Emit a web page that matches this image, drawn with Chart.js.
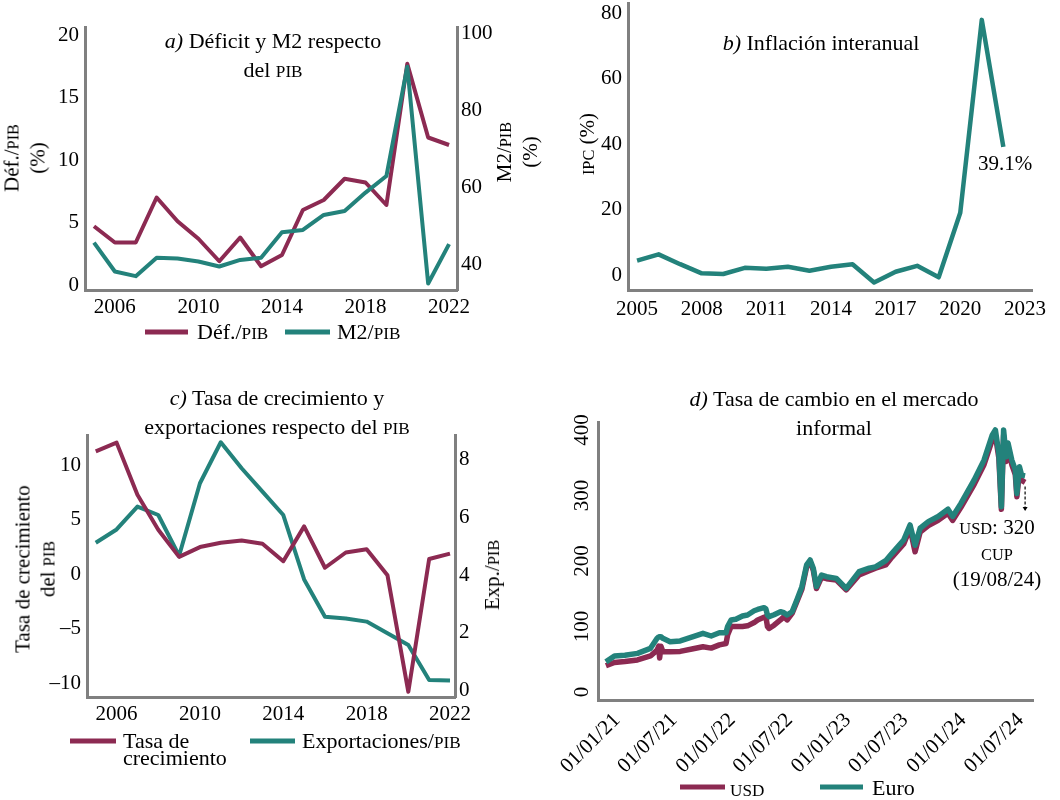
<!DOCTYPE html>
<html>
<head>
<meta charset="utf-8">
<script src="https://cdn.jsdelivr.net/npm/chart.js@4"></script>
<style>
  body { margin: 0; background: #fff; }
  #page { position: relative; width: 1060px; height: 800px; overflow: hidden; font-family: 'Liberation Serif', serif; color: #000; }
  canvas { position: absolute; }
  .t { position: absolute; transform: translate(-50%, -50%); white-space: nowrap; text-align: center; font-size: 22px; line-height: 29px; }
  .r { position: absolute; transform: translate(-50%, -50%) rotate(-90deg); white-space: nowrap; text-align: center; font-size: 21px; line-height: 25px; }
  .lg { position: absolute; transform: translateY(-50%); white-space: nowrap; font-size: 22px; line-height: 17px; }
  .sw { position: absolute; height: 5px; transform: translateY(-50%); }
  .sc { font-size: 0.78em; }
</style>
</head>
<body>
<div id="page">
  <canvas id="chartA" width="530" height="325" style="left:0;top:0"></canvas>
  <canvas id="chartB" width="530" height="325" style="left:530px;top:0"></canvas>
  <canvas id="chartC" width="530" height="350" style="left:0;top:380px"></canvas>
  <canvas id="chartD" width="530" height="400" style="left:530px;top:380px"></canvas>

  <!-- a -->
  <div class="t" style="left:273px;top:56px"><i>a)</i> Déficit y M2 respecto<br>del <span class="sc">PIB</span></div>
  <div class="r" style="left:25px;top:158px">Déf./<span class="sc">PIB</span><br>(%)</div>
  <div class="r" style="left:517px;top:152px">M2/<span class="sc">PIB</span><br>(%)</div>
  <div class="sw" style="left:145px;top:332px;width:43px;background:#8c2a52"></div>
  <div class="lg" style="left:197px;top:332px">Déf./<span class="sc">PIB</span></div>
  <div class="sw" style="left:285px;top:332px;width:45px;background:#23827b"></div>
  <div class="lg" style="left:337px;top:332px">M2/<span class="sc">PIB</span></div>

  <!-- b -->
  <div class="t" style="left:821px;top:42px"><i>b)</i> Inflación interanual</div>
  <div class="r" style="left:588px;top:144px"><span class="sc">IPC</span> (%)</div>
  <div class="lg" style="left:978px;top:163px;font-size:21px">39.1%</div>

  <!-- c -->
  <div class="t" style="left:277px;top:413px"><i>c)</i> Tasa de crecimiento y<br>exportaciones respecto del <span class="sc">PIB</span></div>
  <div class="r" style="left:36px;top:569px">Tasa de crecimiento<br>del <span class="sc">PIB</span></div>
  <div class="r" style="left:493px;top:575px">Exp./<span class="sc">PIB</span></div>
  <div class="sw" style="left:70px;top:741px;width:46px;background:#8c2a52"></div>
  <div class="lg" style="left:123px;top:749px">Tasa de<br>crecimiento</div>
  <div class="sw" style="left:250px;top:741px;width:45px;background:#23827b"></div>
  <div class="lg" style="left:302px;top:741px">Exportaciones/<span class="sc">PIB</span></div>

  <!-- d -->
  <div class="t" style="left:834px;top:413px"><i>d)</i> Tasa de cambio en el mercado<br>informal</div>
  <div class="t" style="left:997px;top:553px;font-size:21px;line-height:24px"><span class="sc">USD</span>: 320<br><span class="sc">CUP</span><br>(19/08/24)</div>
  <div class="sw" style="left:680px;top:787px;width:45px;background:#8c2a52"></div>
  <div class="lg" style="left:730px;top:789px"><span class="sc">USD</span></div>
  <div class="sw" style="left:820px;top:787px;width:43px;background:#23827b"></div>
  <div class="lg" style="left:872px;top:787px">Euro</div>
</div>

<script>
// --- data ---
const years = [2005, 2006, 2007, 2008, 2009, 2010, 2011, 2012, 2013, 2014, 2015, 2016, 2017, 2018, 2019, 2020, 2021, 2022];
const deficitPct = [4.7, 3.4, 3.4, 7.0, 5.1, 3.7, 1.9, 3.8, 1.5, 2.4, 6.0, 6.8, 8.5, 8.2, 6.4, 17.7, 11.8, 11.2];
const m2Pct = [45.8, 38.3, 37.1, 41.9, 41.7, 40.9, 39.6, 41.3, 41.9, 48.5, 49.1, 53.0, 54.0, 58.8, 63.1, 91.5, 35.2, 45.4];
const inflationPct = [4.4, 6.3, 3.3, 0.5, 0.3, 2.2, 1.9, 2.5, 1.3, 2.5, 3.3, -2.3, 1.0, 2.8, -0.7, 19.0, 77.9, 39.1];
const growthPct = [11.3, 12.1, 7.3, 4.1, 1.6, 2.5, 2.9, 3.1, 2.8, 1.2, 4.4, 0.6, 2.0, 2.3, -0.1, -10.8, 1.4, 1.9];
const exportsPct = [5.12, 5.58, 6.37, 6.08, 4.67, 7.18, 8.6, 7.7, 6.89, 6.08, 3.85, 2.56, 2.5, 2.39, 1.99, 1.58, 0.37, 0.35];

// informal market rate, days counted from 01/01/21
const fxDays = [0, 27, 60, 100, 141, 162, 167, 170, 174, 180, 203, 235, 276, 307, 333, 359, 380, 385, 396, 411,
  432, 448, 469, 480, 500, 506, 511, 516, 532, 552, 563, 573, 589, 604, 620, 635, 646, 656, 666, 682,
  698, 729, 760, 801, 833, 853, 885, 905, 942, 962, 978, 994, 1020, 1051, 1082, 1097, 1123, 1165, 1196, 1222,
  1232, 1243, 1251, 1258, 1266, 1272, 1284, 1295, 1300, 1308, 1315, 1326];
const usdRate = [40, 45, 46.5, 49, 55, 64, 70, 52, 70, 62, 61.5, 62, 66, 69, 67, 72, 74, 87, 100, 100,
  100, 101, 106, 110, 114, 115, 100, 97, 102, 110, 115, 110, 120, 138, 157, 191, 199, 186, 158, 175,
  173, 171, 156, 178.6, 185, 189, 194, 206, 226, 250, 214, 244, 254, 262, 273, 262, 282, 317, 347, 385,
  392, 357, 279, 392, 352, 372, 347, 332, 298, 335, 323, 320];
const euroRate = [46, 55, 56, 59, 66.7, 82, 84, 84.5, 84.5, 82, 76.8, 77.9, 84.5, 89.6, 85.5, 90.5, 90.5, 100, 110, 111,
  116, 117.6, 124, 126, 128.8, 127, 117.6, 115, 118, 122.6, 121, 117.6, 122.6, 140.5, 160.8, 194, 201.5, 189, 161, 178.6,
  176, 173.5, 158.3, 183.7, 189, 191, 200.5, 211.7, 232, 255, 224, 250, 260, 268, 279, 268, 288, 323.7, 354, 392,
  400, 364, 283, 400, 359, 380, 354, 339, 303, 344, 331, 330];
const usdArrowTo = 278;

// ticks
const yearTicksA = [2006, 2010, 2014, 2018, 2022];
const yearTicksB = [2005, 2008, 2011, 2014, 2017, 2020, 2023];
const defTicks = [0, 5, 10, 15, 20];
const m2Ticks = [40, 60, 80, 100];
const ipcTicks = [0, 20, 40, 60, 80];
const growthTicks = [-10, -5, 0, 5, 10];
const expTicks = [0, 2, 4, 6, 8];
const fxTicks = [0, 100, 200, 300, 400];
const fxTickLabels = ['01/01/21', '01/07/21', '01/01/22', '01/07/22', '01/01/23', '01/07/23', '01/01/24', '01/07/24'];

const MAROON = '#8c2a52';
const TEAL = '#23827b';
const GRAY = '#808080';

Chart.defaults.font.family = "'Liberation Serif', serif";
Chart.defaults.font.size = 21;
Chart.defaults.color = '#000';

function dayOf(lbl) {
  const [d, m, y] = lbl.split('/').map(Number);
  return (Date.UTC(2000 + y, m - 1, d) - Date.UTC(2021, 0, 1)) / 864e5;
}
const fxTickDays = fxTickLabels.map(dayOf);

function pts(xs, ys) {
  return xs.map((x, i) => ({ x: x, y: ys[i] }));
}

function axis(position, min, max, tickVals, size, extra) {
  const a = {
    type: 'linear', position: position, min: min, max: max, bounds: 'data',
    grid: { display: false, drawTicks: false },
    border: { display: true, color: GRAY, width: 3 },
    ticks: { padding: 6, autoSkip: false, maxRotation: 0, callback: v => v < 0 ? '–' + Math.abs(v) : String(v) },
    afterBuildTicks: s => { s.ticks = tickVals.map(v => ({ value: v })); },
    afterFit: s => {
      if (s.isHorizontal()) s.height = size; else s.width = size;
      s.paddingTop = 0; s.paddingBottom = 0; s.paddingLeft = 0; s.paddingRight = 0;
    }
  };
  if (extra) {
    Object.keys(extra).forEach(k => {
      a[k] = (typeof extra[k] === 'object' && !Array.isArray(extra[k])) ? Object.assign({}, a[k], extra[k]) : extra[k];
    });
  }
  return a;
}

function line(data, color, yID, width, order) {
  return {
    data: data, borderColor: color, backgroundColor: color, borderWidth: width,
    pointRadius: 0, tension: 0, yAxisID: yID, order: order,
    borderJoinStyle: 'round', borderCapStyle: 'butt'
  };
}

const baseOpts = {
  responsive: false, animation: false, events: [],
  plugins: { legend: { display: false }, tooltip: { enabled: false } }
};

// a) Déficit y M2
new Chart(document.getElementById('chartA'), {
  type: 'line',
  data: {
    datasets: [
      line(pts(years, deficitPct), MAROON, 'y', 4, 2),
      line(pts(years, m2Pct), TEAL, 'y1', 4, 1)
    ]
  },
  options: Object.assign({}, baseOpts, {
    layout: { padding: { top: 27, left: 0, right: 0, bottom: 0 } },
    scales: {
      x: axis('bottom', 2004.57, 2022.38, yearTicksA, 35, { ticks: { padding: 5 } }),
      y: axis('left', -0.4, 20.64, defTicks, 85),
      y1: axis('right', 33.5, 101.8, m2Ticks, 73, { ticks: { padding: 4 } })
    }
  })
});

// b) Inflación
new Chart(document.getElementById('chartB'), {
  type: 'line',
  data: { datasets: [line(pts(years, inflationPct), TEAL, 'y', 4.5, 1)] },
  options: Object.assign({}, baseOpts, {
    layout: { padding: { top: 3, left: 0, right: 28, bottom: 0 } },
    scales: {
      x: axis('bottom', 2004.58, 2023.33, yearTicksB, 35, { ticks: { padding: 7 } }),
      y: axis('left', -4.58, 83.05, ipcTicks, 98)
    }
  })
});

// c) Crecimiento y exportaciones
new Chart(document.getElementById('chartC'), {
  type: 'line',
  data: {
    datasets: [
      line(pts(years, growthPct), MAROON, 'y', 4, 1),
      line(pts(years, exportsPct), TEAL, 'y1', 4, 2)
    ]
  },
  options: Object.assign({}, baseOpts, {
    layout: { padding: { top: 55, left: 0, right: 0, bottom: 0 } },
    scales: {
      x: axis('bottom', 2004.58, 2022.24, yearTicksA, 33, { ticks: { padding: 5 } }),
      y: axis('left', -11.28, 12.8, growthTicks, 87),
      y1: axis('right', -0.22, 8.85, expTicks, 75, { ticks: { padding: 4 } })
    }
  })
});

// d) Tasa de cambio
const fxExtras = {
  id: 'fxExtras',
  afterDraw(chart) {
    const ctx = chart.ctx;
    const x = chart.scales.x, y = chart.scales.y;
    ctx.save();
    ctx.fillStyle = '#000';
    ctx.font = "21px 'Liberation Serif'";
    ctx.textAlign = 'center';
    ctx.textBaseline = 'middle';
    y.ticks.forEach(t => {
      ctx.save();
      ctx.translate(y.right - 16, y.getPixelForValue(t.value));
      ctx.rotate(-Math.PI / 2);
      ctx.fillText(String(t.value), 0, 0);
      ctx.restore();
    });
    // dashed pointer from the last USD value
    const last = fxDays.length - 1;
    const px = x.getPixelForValue(fxDays[last]);
    const y0 = y.getPixelForValue(usdRate[last]) + 4;
    const y1 = y.getPixelForValue(usdArrowTo);
    ctx.strokeStyle = '#000';
    ctx.lineWidth = 1.2;
    ctx.setLineDash([3, 2]);
    ctx.beginPath();
    ctx.moveTo(px, y0);
    ctx.lineTo(px, y1);
    ctx.stroke();
    ctx.setLineDash([]);
    ctx.beginPath();
    ctx.moveTo(px - 2.5, y1 - 3);
    ctx.lineTo(px + 2.5, y1 - 3);
    ctx.lineTo(px, y1 + 1);
    ctx.closePath();
    ctx.fill();
    ctx.restore();
  }
};

new Chart(document.getElementById('chartD'), {
  type: 'line',
  data: {
    datasets: [
      line(pts(fxDays, usdRate), MAROON, 'y', 5.5, 2),
      line(pts(fxDays, euroRate), TEAL, 'y', 5.5, 1)
    ]
  },
  options: Object.assign({}, baseOpts, {
    layout: { padding: { top: 42, left: 0, right: 27, bottom: 0 } },
    scales: {
      x: axis('bottom', -25, 1351, fxTickDays, 80, {
        ticks: { padding: 8, minRotation: 45, maxRotation: 45, labelOffset: 11, callback: (v, i) => fxTickLabels[i] }
      }),
      y: axis('left', -12.2, 412.2, fxTicks, 68, { ticks: { display: false } })
    }
  }),
  plugins: [fxExtras]
});
</script>
</body>
</html>
